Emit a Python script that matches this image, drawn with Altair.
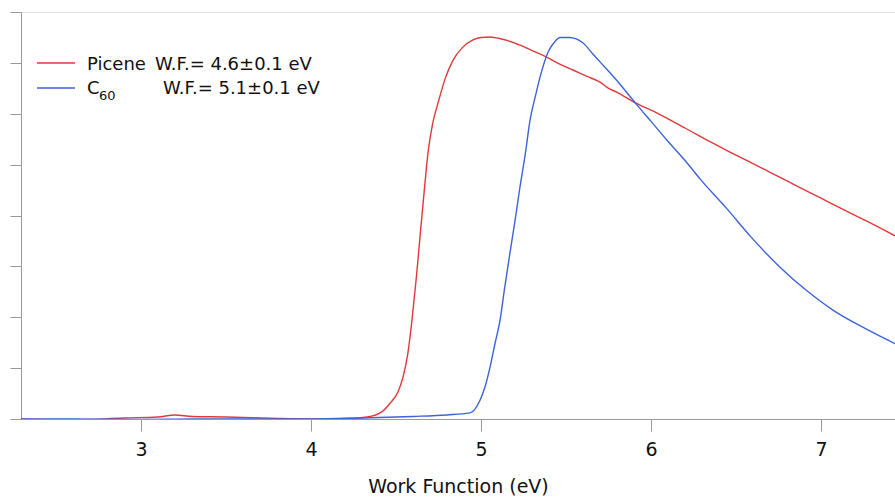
import altair as alt
import pandas as pd

# Picene spectrum (work function eV, intensity a.u.)
picene_x = [2.29, 2.6, 2.9, 3.1, 3.2, 3.3, 3.5, 3.8, 4.0, 4.2, 4.33, 4.42, 4.465, 4.51, 4.541, 4.57, 4.594,
            4.62, 4.641, 4.665, 4.688, 4.715, 4.747, 4.79, 4.835, 4.89, 4.953, 5.0, 5.053, 5.12, 5.229, 5.3,
            5.388, 5.46, 5.541, 5.62, 5.70, 5.741, 5.80, 5.894, 5.935, 6.0, 6.094, 6.2, 6.347, 6.45, 6.582,
            6.70, 6.80, 6.876, 7.0, 7.112, 7.25, 7.35, 7.435]
picene_y = [0.0, -0.02, 0.02, 0.04, 0.08, 0.05, 0.04, 0.01, 0.0, 0.01, 0.04, 0.15, 0.31, 0.52, 0.82, 1.3, 1.95,
            2.8, 3.58, 4.45, 5.23, 5.8, 6.21, 6.7, 7.05, 7.3, 7.45, 7.5, 7.51, 7.47, 7.35, 7.24,
            7.11, 6.98, 6.86, 6.74, 6.62, 6.52, 6.42, 6.24, 6.17, 6.07, 5.91, 5.72, 5.45, 5.27, 5.05,
            4.85, 4.68, 4.55, 4.34, 4.15, 3.92, 3.75, 3.60]

# C60 spectrum
c60_x = [2.29, 2.6, 3.0, 3.3, 3.6, 4.0, 4.3, 4.6, 4.8, 4.935, 4.994, 5.025, 5.053, 5.08, 5.112, 5.14, 5.17,
         5.2, 5.229, 5.26, 5.288, 5.32, 5.347, 5.394, 5.43, 5.465, 5.523, 5.56, 5.6, 5.659, 5.70, 5.8,
         5.918, 6.0, 6.094, 6.2, 6.288, 6.447, 6.582, 6.76, 6.917, 7.07, 7.27, 7.435]
c60_y = [0.0, 0.0, -0.01, 0.0, 0.0, 0.0, 0.02, 0.05, 0.08, 0.12, 0.37, 0.65, 1.02, 1.45, 1.95, 2.6, 3.26,
         3.9, 4.56, 5.2, 5.87, 6.35, 6.72, 7.21, 7.4, 7.50, 7.50, 7.47, 7.39, 7.17, 7.02, 6.65,
         6.17, 5.85, 5.48, 5.08, 4.72, 4.13, 3.60, 2.98, 2.52, 2.14, 1.76, 1.48]

RED = "#e2383b"
BLUE = "#3c63d8"

df = pd.concat([
    pd.DataFrame({"x": picene_x, "y": picene_y, "s": "Picene"}),
    pd.DataFrame({"x": c60_x, "y": c60_y, "s": "C60"}),
])

FONT = "DejaVu Sans"
xscale = alt.Scale(domain=[2.294, 7.435], nice=False, zero=False)
yscale = alt.Scale(domain=[0, 8], nice=False)
cscale = alt.Scale(domain=["Picene", "C60"], range=[RED, BLUE])

lines = alt.Chart(df).mark_line(strokeWidth=1.4, clip=True, interpolate="monotone").encode(
    x=alt.X("x:Q", scale=xscale,
            axis=alt.Axis(title="Work Function (eV)", values=[3, 4, 5, 6, 7], grid=False,
                          tickSize=12, tickColor="#999", domainColor="#999", labelFontSize=19,
                          labelColor="#111", titleFontSize=19, titleFontWeight="normal",
                          titleColor="#111", labelPadding=9, titlePadding=18, labelFont=FONT,
                          titleFont=FONT)),
    y=alt.Y("y:Q", scale=yscale,
            axis=alt.Axis(title=None, labels=False, values=[0, 1, 2, 3, 4, 5, 6, 7, 8], grid=False,
                          tickSize=11, tickColor="#999", domainColor="#999")),
    color=alt.Color("s:N", scale=cscale, legend=None),
    detail="s:N",
)

leg = pd.DataFrame({"s": ["Picene", "C60"], "y": [51, 76]})
leg_lines = alt.Chart(leg).mark_rule(strokeWidth=1.4).encode(
    x=alt.value(16), x2=alt.value(54), y=alt.Y("y:Q", scale=None),
    color=alt.Color("s:N", scale=cscale, legend=None),
)

txt_main = pd.DataFrame({"t": ["Picene", "W.F.= 4.6±0.1 eV", "C", "W.F.= 5.1±0.1 eV"],
                         "px": [66, 134, 66, 142], "py": [53, 53, 77, 77]})
leg_text = alt.Chart(txt_main).mark_text(align="left", baseline="middle", fontSize=18, font=FONT,
                                         color="#111").encode(
    x=alt.X("px:Q", scale=None), y=alt.Y("py:Q", scale=None), text="t:N")
sub = pd.DataFrame({"t": ["60"], "px": [78], "py": [84]})
sub_text = alt.Chart(sub).mark_text(align="left", baseline="middle", fontSize=13, font=FONT,
                                    color="#111").encode(
    x=alt.X("px:Q", scale=None), y=alt.Y("py:Q", scale=None), text="t:N")

chart = alt.layer(lines, leg_lines, leg_text, sub_text).properties(
    width=874, height=407,
    autosize=alt.AutoSizeParams(type="none"),
    padding={"left": 21, "top": 12, "right": 0, "bottom": 78},
).configure_view(stroke="#999", strokeWidth=1).configure(background="white")

chart.save("out.html", embed_options={"renderer": "svg", "actions": False})
